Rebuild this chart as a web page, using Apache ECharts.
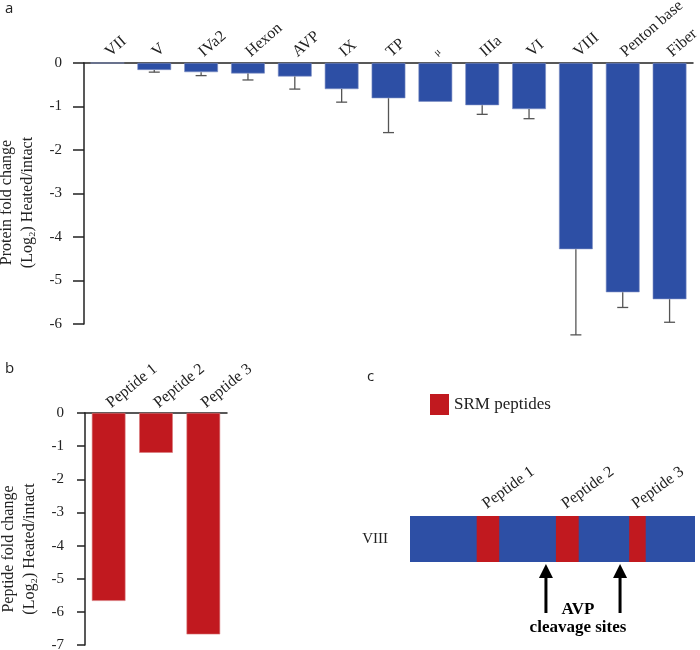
<!DOCTYPE html>
<html><head><meta charset="utf-8">
<script src="https://cdn.jsdelivr.net/npm/echarts@6/dist/echarts.min.js"></script>
<style>html,body{margin:0;padding:0;background:#fff}#c{width:700px;height:650px}</style>
</head><body><div id="c"></div>
<script>
// ---- Panel a: protein fold change ----
const proteinCategories = ['VII','V','IVa2','Hexon','AVP','IX','TP','μ','IIIa','VI','VIII','Penton base','Fiber'];
const proteinFoldChange = [0,-0.16,-0.21,-0.24,-0.31,-0.60,-0.81,-0.89,-0.97,-1.06,-4.28,-5.27,-5.43];
const proteinErrorLow   = [null,-0.21,-0.29,-0.39,-0.60,-0.90,-1.60,null,-1.18,-1.28,-6.25,-5.62,-5.96];
const proteinAxisMin = -6, proteinAxisMax = 0, proteinAxisStep = 1;
// ---- Panel b: peptide fold change ----
const peptideCategories = ['Peptide 1','Peptide 2','Peptide 3'];
const peptideFoldChange = [-5.67,-1.20,-6.68];
const peptideAxisMin = -7, peptideAxisMax = 0, peptideAxisStep = 1;
// ---- Panel c: protein VIII map (relative position 0-100) ----
const viiiName = 'VIII';
const viiiSpan = [0, 100];
const srmSegments = [[23.4,31.3],[51.2,59.2],[76.9,82.7]];
const srmSegmentLabels = ['Peptide 1','Peptide 2','Peptide 3'];
const cleavageSites = [47.7,73.7];

const BLUE = '#2d4fa5', RED = '#c1191f', INK = '#222';
const SERIF = '"Liberation Serif", "DejaVu Serif", serif';
const SANS = '"Open Sans", "Noto Sans", sans-serif';

const chart = echarts.init(document.getElementById('c'), null, {renderer:'canvas'});

const axisLineStyle = {color: INK, width: 1.5};

const errData = [];
proteinErrorLow.forEach((lo, i) => { if (lo !== null) errData.push([i, proteinFoldChange[i], lo]); });

const option = {
  animation: false,
  backgroundColor: '#fff',
  title: [
    {text: 'a', left: 0, top: -4, textStyle: {fontFamily: SANS, fontSize: 15, fontWeight: 'normal', color: INK}},
    {text: 'b', left: 0, top: 356, textStyle: {fontFamily: SANS, fontSize: 15, fontWeight: 'normal', color: INK}},
    {text: 'c', left: 362, top: 364, textStyle: {fontFamily: SANS, fontSize: 15, fontWeight: 'normal', color: INK}}
  ],
  legend: {
    data: ['SRM peptides'], left: 425, top: 389, icon: 'rect', itemWidth: 19, itemHeight: 21,
    selectedMode: false, textStyle: {fontFamily: SERIF, fontSize: 17, color: INK}
  },
  grid: [
    {left: 84, top: 63, width: 609, height: 261, outerBoundsMode: 'none'},
    {left: 85, top: 413, width: 142, height: 232, outerBoundsMode: 'none'},
    {left: 410, top: 516, width: 285, height: 46, outerBoundsMode: 'none'}
  ],
  xAxis: [
    {type: 'category', gridIndex: 0, position: 'top', data: proteinCategories.map(c => c === 'μ' ? {value: c, textStyle: {fontSize: 10}} : c),
     axisLine: {lineStyle: axisLineStyle}, axisTick: {inside: true, length: 7, lineStyle: axisLineStyle},
     axisLabel: {rotate: 41, margin: 9, fontFamily: SERIF, fontSize: 16, color: INK, interval: 0}},
    {type: 'category', gridIndex: 1, position: 'top', data: peptideCategories,
     axisLine: {lineStyle: axisLineStyle}, axisTick: {inside: true, length: 7, lineStyle: axisLineStyle},
     axisLabel: {rotate: 39, margin: 8, fontFamily: SERIF, fontSize: 16, color: INK, interval: 0}},
    {type: 'value', gridIndex: 2, min: viiiSpan[0], max: viiiSpan[1], show: false}
  ],
  yAxis: [
    {type: 'value', gridIndex: 0, min: proteinAxisMin, max: proteinAxisMax, interval: proteinAxisStep,
     splitLine: {show: false}, axisLine: {show: true, lineStyle: axisLineStyle},
     axisTick: {show: true, length: 11, lineStyle: axisLineStyle},
     axisLabel: {margin: 22, fontFamily: SERIF, fontSize: 15, color: INK},
     name: 'Protein fold change\n(Log₂) Heated/intact', nameLocation: 'middle', nameRotate: 90, nameGap: 44,
     nameTextStyle: {fontFamily: SERIF, fontSize: 16, lineHeight: 21, color: INK, padding: [0, 18, 0, 0]}},
    {type: 'value', gridIndex: 1, min: peptideAxisMin, max: peptideAxisMax, interval: peptideAxisStep,
     splitLine: {show: false}, axisLine: {show: true, lineStyle: axisLineStyle},
     axisTick: {show: true, length: 8, lineStyle: axisLineStyle},
     axisLabel: {margin: 21, fontFamily: SERIF, fontSize: 15, color: INK},
     name: 'Peptide fold change\n(Log₂) Heated/intact', nameLocation: 'middle', nameRotate: 90, nameGap: 45,
     nameTextStyle: {fontFamily: SERIF, fontSize: 16, lineHeight: 21, color: INK, padding: [0, 40, 0, 0]}},
    {type: 'category', gridIndex: 2, data: [viiiName],
     axisLine: {show: false}, axisTick: {show: false},
     axisLabel: {margin: 22, fontFamily: SERIF, fontSize: 15, color: INK}}
  ],
  series: [
    {type: 'bar', name: 'Protein', xAxisIndex: 0, yAxisIndex: 0, data: proteinFoldChange, barWidth: '72%',
     itemStyle: {color: BLUE, borderColor: '#7d8fc4', borderWidth: 0.6}, z: 2},
    {type: 'custom', name: 'Protein error', xAxisIndex: 0, yAxisIndex: 0, data: errData, z: 3,
     encode: {x: 0, y: [1, 2]},
     renderItem: function (params, api) {
       const top = api.coord([api.value(0), api.value(1)]);
       const bot = api.coord([api.value(0), api.value(2)]);
       const st = {stroke: '#555', lineWidth: 1.3};
       return {type: 'group', children: [
         {type: 'line', shape: {x1: top[0], y1: top[1], x2: bot[0], y2: bot[1]}, style: st},
         {type: 'line', shape: {x1: bot[0] - 5.5, y1: bot[1], x2: bot[0] + 5.5, y2: bot[1]}, style: st}
       ]};
     }},
    {type: 'bar', name: 'Peptide', xAxisIndex: 1, yAxisIndex: 1, data: peptideFoldChange, barWidth: '71%',
     itemStyle: {color: RED, borderColor: '#d9787b', borderWidth: 0.6}},
    {type: 'custom', name: viiiName, xAxisIndex: 2, yAxisIndex: 2, data: [[viiiSpan[0], viiiSpan[1], 0]],
     encode: {x: [0, 1], y: 2}, itemStyle: {color: BLUE}, z: 1,
     renderItem: function (params, api) {
       const s = api.coord([api.value(0), api.value(2)]);
       const e = api.coord([api.value(1), api.value(2)]);
       const h = api.size([0, 1])[1];
       return {type: 'rect', shape: {x: s[0], y: s[1] - h / 2, width: e[0] - s[0], height: h}, style: {fill: BLUE}};
     }},
    {type: 'custom', name: 'SRM peptides', xAxisIndex: 2, yAxisIndex: 2,
     data: srmSegments.map((s, i) => [s[0], s[1], 0, srmSegmentLabels[i]]),
     encode: {x: [0, 1], y: 2}, itemStyle: {color: RED}, z: 2,
     renderItem: function (params, api) {
       const s = api.coord([api.value(0), api.value(2)]);
       const e = api.coord([api.value(1), api.value(2)]);
       const h = api.size([0, 1])[1];
       const cx = (s[0] + e[0]) / 2;
       return {type: 'group', children: [
         {type: 'rect', shape: {x: s[0], y: s[1] - h / 2, width: e[0] - s[0], height: h}, style: {fill: RED}},
         {type: 'text', x: cx + 1, y: s[1] - h / 2 - 4, rotation: 36 * Math.PI / 180,
          style: {text: srmSegmentLabels[params.dataIndex], fontFamily: SERIF, fontSize: 16, fill: INK, align: 'left', verticalAlign: 'bottom'}}
       ]};
     }},
    {type: 'custom', name: 'AVP cleavage', xAxisIndex: 2, yAxisIndex: 2,
     data: cleavageSites.map(x => [x, 0]), encode: {x: 0, y: 1}, z: 3,
     renderItem: function (params, api) {
       const c = api.coord([api.value(0), api.value(1)]);
       const h = api.size([0, 1])[1];
       const y0 = c[1] + h / 2;
       const kids = [
         {type: 'line', shape: {x1: c[0], y1: y0 + 12, x2: c[0], y2: y0 + 51}, style: {stroke: '#000', lineWidth: 3}},
         {type: 'polygon', shape: {points: [[c[0], y0 + 2], [c[0] - 7, y0 + 16], [c[0] + 7, y0 + 16]]}, style: {fill: '#000'}}
       ];
       if (params.dataIndex === 0) {
         const c2 = api.coord([cleavageSites[1], 0]);
         const mx = (c[0] + c2[0]) / 2 - 5;
         kids.push({type: 'text', x: mx, y: y0 + 48, style: {text: 'AVP', fontFamily: SERIF, fontSize: 17, fontWeight: 'bold', fill: '#000', align: 'center', verticalAlign: 'middle'}});
         kids.push({type: 'text', x: mx, y: y0 + 66, style: {text: 'cleavage sites', fontFamily: SERIF, fontSize: 17, fontWeight: 'bold', fill: '#000', align: 'center', verticalAlign: 'middle'}});
       }
       return {type: 'group', children: kids};
     }}
  ]
};
chart.setOption(option);
</script>
</body></html>
